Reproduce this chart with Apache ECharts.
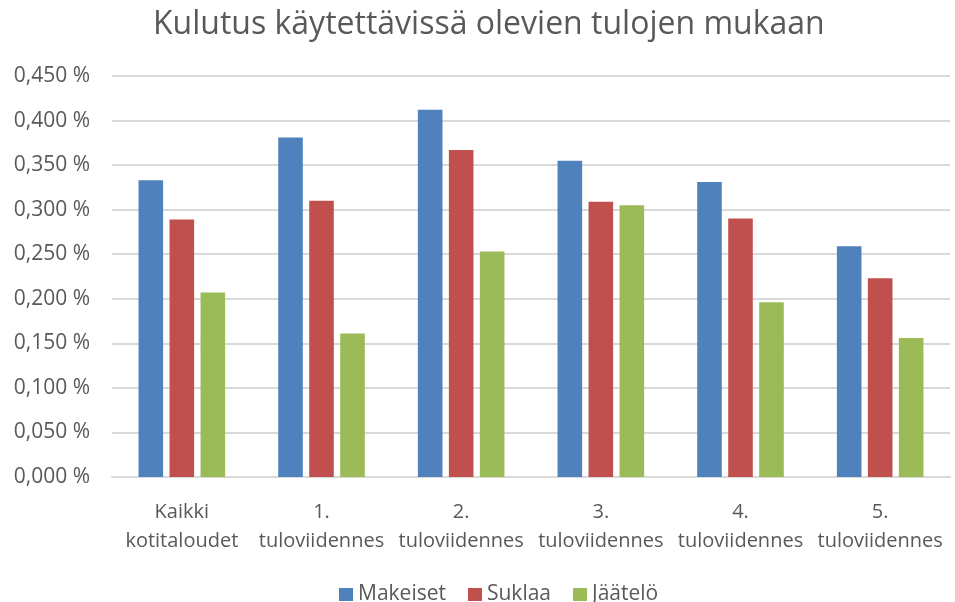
<!DOCTYPE html>
<html>
<head>
<meta charset="utf-8">
<script src="https://cdn.jsdelivr.net/npm/echarts@6/dist/echarts.min.js"></script>
<style>
  html, body { margin: 0; padding: 0; background: #fff; }
  #chart { width: 955px; height: 602px; }
</style>
</head>
<body>
<div id="chart"></div>
<script>
// values are percentages (0.333 = 0,333 %)
const categories = ['Kaikki\nkotitaloudet', '1.\ntuloviidennes', '2.\ntuloviidennes',
  '3.\ntuloviidennes', '4.\ntuloviidennes', '5.\ntuloviidennes']
const makeiset = [0.333, 0.381, 0.412, 0.355, 0.331, 0.259]
const suklaa = [0.289, 0.310, 0.367, 0.309, 0.290, 0.223]
const jaatelo = [0.207, 0.161, 0.253, 0.305, 0.196, 0.156]

const FONT = '"Open Sans", sans-serif'
const TEXT = '#595959'

const chart = echarts.init(document.getElementById('chart'))

const bar = (name, data, color) => ({
  name,
  type: 'bar',
  data,
  barGap: '26%',
  barCategoryGap: '38%',
  itemStyle: { color }
})

chart.setOption({
  animation: false,
  title: {
    text: 'Kulutus käytettävissä olevien tulojen mukaan',
    left: 148,
    top: 4,
    textStyle: { fontFamily: FONT, fontSize: 32, fontWeight: 'normal', color: TEXT }
  },
  legend: {
    top: 579,
    left: 334,
    icon: 'rect',
    itemWidth: 14,
    itemHeight: 13,
    itemGap: 22,
    textStyle: { fontFamily: FONT, fontSize: 21, color: TEXT }
  },
  grid: { left: 112, right: 5, top: 76, bottom: 125 },
  xAxis: {
    type: 'category',
    data: categories,
    axisLine: { lineStyle: { color: '#d9d9d9', width: 2 } },
    axisTick: { show: false },
    axisLabel: {
      interval: 0,
      margin: 21,
      lineHeight: 29,
      fontFamily: FONT,
      fontSize: 20,
      color: TEXT
    }
  },
  yAxis: {
    type: 'value',
    min: 0,
    max: 0.45,
    interval: 0.05,
    axisLine: { show: false },
    axisTick: { show: false },
    splitLine: { lineStyle: { color: '#d9d9d9', width: 2 } },
    axisLabel: {
      margin: 22,
      fontFamily: FONT,
      fontSize: 21,
      color: TEXT,
      formatter: v => v.toFixed(3).replace('.', ',') + ' %'
    }
  },
  series: [
    bar('Makeiset', makeiset, '#4F81BD'),
    bar('Suklaa', suklaa, '#C0504D'),
    bar('Jäätelö', jaatelo, '#9BBB59')
  ]
})
</script>
</body>
</html>
